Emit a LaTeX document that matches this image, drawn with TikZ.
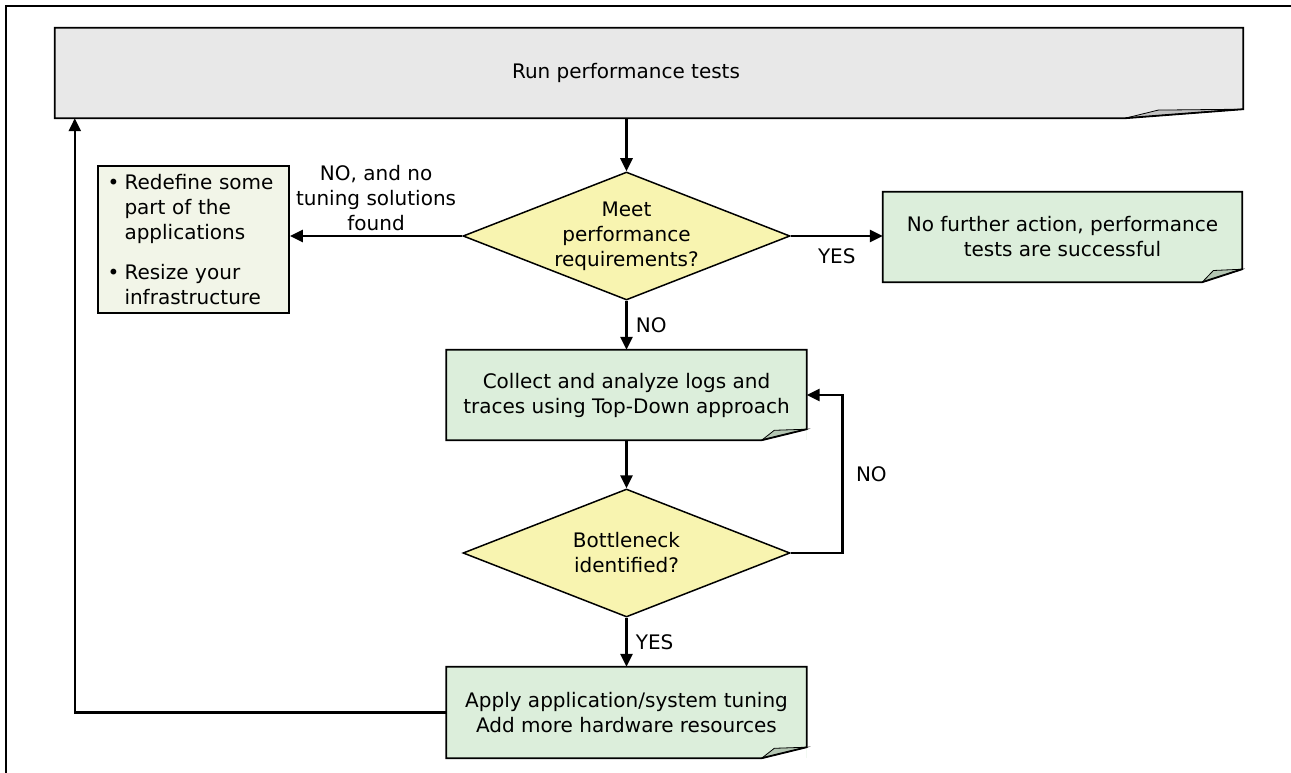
\documentclass[tikz,border=0pt]{standalone}
\usepackage{fontspec}
\setmainfont{DejaVu Sans}
\usetikzlibrary{arrows.meta,positioning,shapes.geometric,calc}
\definecolor{paper}{HTML}{E8E8E8}
\definecolor{paperfold}{HTML}{C2C2C2}
\definecolor{sage}{HTML}{DCEEDB}
\definecolor{sagefold}{HTML}{B4C6B3}
\definecolor{query}{HTML}{F8F4B0}
\definecolor{note}{HTML}{F2F5E8}
\newcommand{\flowfont}{\fontsize{20}{25}\selectfont}
% outline of a box with a turned-up corner: node, fold colour, fold width, fold height
\newcommand{\pagefold}[4]{%
  \fill[white] ([xshift=-#3pt]#1.south east) -- (#1.south east) -- ([yshift=#4pt]#1.south east) -- cycle;
  \filldraw[fill=#2, draw=black, line width=0.8pt] ([xshift=-#3pt]#1.south east)
    -- ([xshift={-0.72*#3pt}, yshift={0.9*#4pt}]#1.south east) -- ([yshift=#4pt]#1.south east) -- cycle;
  \draw[edge] (#1.north west) -- (#1.north east) -- ([yshift=#4pt]#1.south east)
    -- ([xshift=-#3pt]#1.south east) -- (#1.south west) -- cycle;
}
\tikzset{
  edge/.style={line width=1.8pt, line join=miter},
  box/.style={draw=none, align=center, font=\flowfont, inner sep=6pt},
  graybox/.style={box, fill=paper},
  sagebox/.style={box, fill=sage, minimum width=360pt, minimum height=90pt},
  notebox/.style={box, draw, edge, fill=note, align=left, text width=172pt,
                  inner xsep=9.5pt, minimum height=147pt},
  decision/.style={diamond, draw, edge, line width=1.5pt, fill=query, aspect=2.5, inner sep=0pt,
                   minimum width=327pt, minimum height=128pt, align=center, font=\flowfont},
  ar/.style={-{Triangle[length=13pt,width=12pt]}, line width=2.6pt},
  lbl/.style={font=\flowfont, align=center}
}
\newcommand{\itm}{\makebox[17pt][l]{\textbullet}}
\begin{document}
\begin{tikzpicture}[x=1pt,y=-1pt]
  \useasboundingbox (0,0) rectangle (1291,773);
  \draw[line width=1.5pt] (6,773) -- (6,6) -- (1291,6);

  \node[graybox, minimum width=1188pt, minimum height=90pt] (run) at (649,73)
    {Run performance tests\hspace*{46pt}};
  \pagefold{run}{paperfold}{118}{9}

  \node[decision] (meet) at (626.5,236) {Meet\\performance\\requirements?};

  \node[notebox] (redefine) at (193.5,239.5)
    {\itm Redefine some\\\hphantom{\itm}part of the\\\hphantom{\itm}applications\\[15pt]%
     \itm Resize your\\\hphantom{\itm}infrastructure};

  \node[sagebox, minimum width=359pt] (done) at (1062.5,237)
    {No further action, performance\\tests are successful};
  \pagefold{done}{sagefold}{40}{13}

  \node[sagebox] (collect) at (626.5,395)
    {Collect and analyze logs and\\traces using Top-Down approach};
  \pagefold{collect}{sagefold}{45}{11}

  \node[decision] (bottleneck) at (626.5,553) {Bottleneck\\identified?};

  \node[sagebox, minimum height=91pt] (tune) at (626.5,712.5)
    {Apply application/system tuning\\Add more hardware resources};
  \pagefold{tune}{sagefold}{45}{11}

  % connectors
  \draw[ar] (meet.north |- run.south) -- (meet.north);
  \draw[ar] (meet.west) -- (meet.west -| redefine.east)
    node[lbl, midway, above, inner sep=4pt] {NO, and no\\tuning solutions\\found};
  \draw[ar] (meet.east) -- (meet.east -| done.west)
    node[lbl, midway, below, inner sep=11pt] {YES};
  \draw[ar] (meet.south) -- (collect.north)
    node[lbl, midway, right, inner sep=8pt] {NO};
  \draw[ar] (collect.south) -- (bottleneck.north);
  \draw[ar] (bottleneck.east) -| ([xshift=36pt]collect.east)
    node[lbl, pos=0.75, right, inner sep=12pt] {NO} -- (collect.east);
  \draw[ar] (bottleneck.south) -- (tune.north)
    node[lbl, midway, right, inner sep=8pt] {YES};
  \draw[ar] (tune.west) -| ([xshift=20pt]run.south west);
\end{tikzpicture}
\end{document}
